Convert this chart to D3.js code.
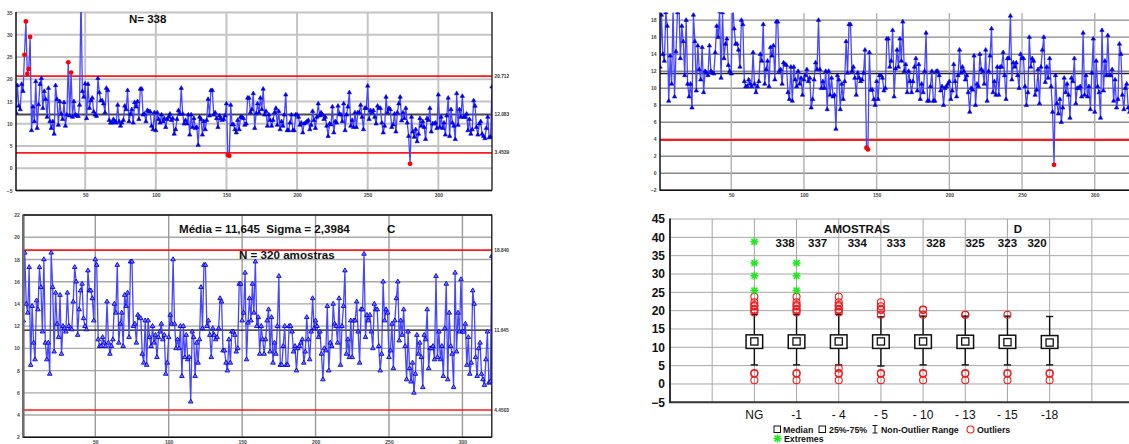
<!DOCTYPE html>
<html><head><meta charset="utf-8">
<script src="https://cdn.jsdelivr.net/npm/d3@7"></script>
<style>body{margin:0;background:#fff}svg{display:block;font-family:Arial,"Liberation Sans",sans-serif}text{white-space:pre}</style>
</head><body><svg id="c" width="1129" height="444"></svg>
<script>
// ---------------- DATA ----------------
const seriesA = [12.5,18.6,14,13.2,18.9,17.3,25.5,33,21.2,22.3,29.5,8.5,13.8,10.5,19.5,9,14.3,18.9,20.2,13.5,17.3,15.5,11.5,18,10.5,9,10.5,7.7,18.6,15.5,9.7,15,12.2,11,14.8,9.5,12,23.8,11.8,21.5,11.5,15,12,11.8,11.7,14.2,38.8,17.3,16,19,11.2,18.9,13.5,15.2,15.8,12.7,12,11.7,20.2,17,15.2,15.2,14.5,12.5,18,17.5,
10.8,10.2,10.2,11,10.5,10.2,14.2,10.5,9.5,10.2,10.8,14,13.2,17.5,10.5,12.2,13.2,10.2,14.8,13.8,15,11,17.8,17.8,12,12.2,10.5,13,12.8,12.7,9.5,8.7,12.5,8.5,12.5,11,10.2,12,10.5,11.2,9.2,11,11.5,12.2,10.8,11.2,7.7,8.7,11,
13,12.2,18,12.2,10,10.8,10,12,7.5,12,9.2,11.2,9,9.2,5.2,11.5,11,7.5,10.5,8.7,10.8,15.5,11.8,17.5,17.5,12,12.5,11.2,9.2,11.8,11.2,10.8,11,11.8,14.5,
3,2.8,
14.2,9.8,9.8,8.7,8,10.8,8.7,11.5,11.5,11.2,9.7,10,15.8,15.8,12.5,
13.2,16.8,9,12.3,14.5,12.5,15.8,13.2,17.8,12,12.8,9.5,12,10.8,9.5,10.8,12.5,13.5,9.7,12.8,8.7,10.5,9.5,12,16.5,8.5,8.5,10.2,12,8.5,8.5,12,12,11.5,9.7,10.2,8,10,10.2,10.5,10.8,8.7,9.7,12.8,10.8,9,11.5,14.5,11.8,12.5,
12,11,11.5,9.5,7.2,10,9.8,13.8,8,10.5,10.2,14,12.2,12,10.5,14.5,8.5,12,13.8,17,9.5,10.8,9.2,12.5,9.2,12.5,12.5,14.2,11.5,8.7,13.5,13.5,18.5,11,13,12.5,13,11.5,10,14,13.5,13.5,10.2,8,9.5,16,12.5,13.5,13.2,9.2,
9.8,12.2,8.2,12.5,14.5,16,10.7,12.5,11.2,13.5,10.2,7.2,
1,
11.5,8.2,7,8.7,6,7.7,11.2,9.5,
10.5,9.2,6.5,11.2,10.8,13.5,8.2,10,10,10.2,9,16.5,9.2,11.5,9,10.2,7.5,11.8,15.8,7.2,13.2,10.2,9.5,6.5,16.8,9.7,13.2,11.5,16.2,11.5,
11.5,12.2,8.5,11,7.7,8.7,15.2,14,9.2,7.5,10,10.5,7.7,7.2,6.7,9,11.5,6.9,7,18.3];

const seriesB = [12.5,18.6,14,13.2,18.9,17.3,8.5,13.8,10.5,19.5,9,14.3,18.9,20.2,13.5,17.3,15.5,11.5,18,10.5,9,10.5,7.7,18.6,15.5,9.7,15,12.2,11,14.8,9.5,12,11.8,11.5,15,12,11.8,11.7,14.2,17.3,16,19,11.2,18.9,13.5,15.2,15.8,12.7,12,11.7,20.2,17,15.2,15.2,14.5,12.5,18,17.5,
10.8,10.2,10.2,11,10.5,10.2,14.2,10.5,9.5,10.2,10.8,14,13.2,17.5,10.5,12.2,13.2,10.2,14.8,13.8,15,11,17.8,17.8,12,12.2,10.5,13,12.8,12.7,9.5,8.7,12.5,8.5,12.5,11,10.2,12,10.5,11.2,9.2,11,11.5,12.2,10.8,11.2,7.7,8.7,11,
13,12.2,18,12.2,10,10.8,10,12,7.5,12,9.2,11.2,9,9.2,5.2,11.5,11,7.5,10.5,8.7,10.8,15.5,11.8,17.5,17.5,12,12.5,11.2,9.2,11.8,11.2,10.8,11,11.8,14.5,
3,2.8,
14.2,9.8,9.8,8.7,8,10.8,8.7,11.5,11.5,11.2,9.7,10,15.8,15.8,12.5,
13.2,16.8,9,12.3,14.5,12.5,15.8,13.2,17.8,12,12.8,9.5,12,10.8,9.5,10.8,12.5,13.5,9.7,12.8,8.7,10.5,9.5,12,16.5,8.5,8.5,10.2,12,8.5,8.5,12,12,11.5,9.7,10.2,8,10,10.2,10.5,10.8,8.7,9.7,12.8,10.8,9,11.5,14.5,11.8,12.5,
12,11,11.5,9.5,7.2,10,9.8,13.8,8,10.5,10.2,14,12.2,12,10.5,14.5,8.5,12,13.8,17,9.5,10.8,9.2,12.5,9.2,12.5,12.5,14.2,11.5,8.7,13.5,13.5,18.5,11,13,12.5,13,11.5,10,14,13.5,13.5,10.2,8,9.5,16,12.5,13.5,13.2,9.2,
9.8,12.2,8.2,12.5,14.5,16,10.7,12.5,11.2,13.5,10.2,7.2,
1,
11.5,8.2,7,8.7,6,7.7,11.2,9.5,
10.5,9.2,6.5,11.2,10.8,13.5,8.2,10,10,10.2,9,16.5,9.2,11.5,9,10.2,7.5,11.8,15.8,7.2,13.2,10.2,9.5,6.5,16.8,9.7,13.2,11.5,16.2,11.5,
11.5,12.2,8.5,11,7.7,8.7,15.2,14,9.2,7.5,10,10.5,7.7,7.2,6.7,9,11.5,6.9,7,18.3];

const seriesC = [12.5,18.6,14,13.2,17.3,8.5,13.8,10.5,9,14.3,13.5,17.3,15.5,11.5,18,10.5,9,10.5,7.7,18.6,15.5,9.7,15,12.2,11,14.8,9.5,12,11.8,11.5,15,12,11.8,11.7,14.2,17.3,16,11.2,13.5,15.2,15.8,12.7,12,11.7,17,15.2,15.2,14.5,12.5,18,17.5,
10.8,10.2,10.2,11,10.5,10.2,14.2,10.5,9.5,10.2,10.8,14,13.2,17.5,10.5,12.2,13.2,10.2,14.8,13.8,15,11,17.8,17.8,12,12.2,10.5,13,12.8,12.7,9.5,8.7,12.5,8.5,12.5,11,10.2,12,10.5,11.2,9.2,11,11.5,12.2,10.8,11.2,7.7,8.7,11,
13,12.2,18,12.2,10,10.8,10,12,7.5,12,9.2,11.2,9,9.2,5.2,11.5,11,7.5,10.5,8.7,10.8,15.5,11.8,17.5,17.5,12,12.5,11.2,9.2,11.8,11.2,10.8,11,11.8,14.5,
14.2,9.8,9.8,8.7,8,10.8,8.7,11.5,11.5,11.2,9.7,10,15.8,15.8,12.5,
13.2,16.8,9,12.3,14.5,12.5,15.8,13.2,17.8,12,12.8,9.5,12,10.8,9.5,10.8,12.5,13.5,9.7,12.8,8.7,10.5,9.5,12,16.5,8.5,8.5,10.2,12,8.5,8.5,12,12,11.5,9.7,10.2,8,10,10.2,10.5,10.8,8.7,9.7,12.8,10.8,9,11.5,14.5,11.8,12.5,
12,11,11.5,9.5,7.2,10,9.8,13.8,8,10.5,10.2,14,12.2,12,10.5,14.5,8.5,12,13.8,17,9.5,10.8,9.2,12.5,9.2,12.5,12.5,14.2,11.5,8.7,13.5,13.5,18.5,11,13,12.5,13,11.5,10,14,13.5,13.5,10.2,8,9.5,16,12.5,13.5,13.2,9.2,
9.8,12.2,8.2,12.5,14.5,16,10.7,12.5,11.2,13.5,10.2,7.2,
11.5,8.2,7,8.7,6,7.7,11.2,9.5,
10.5,9.2,6.5,11.2,10.8,13.5,8.2,10,10,10.2,9,16.5,9.2,11.5,9,10.2,7.5,11.8,15.8,7.2,13.2,10.2,9.5,6.5,16.8,9.7,13.2,11.5,16.2,11.5,
11.5,12.2,8.5,11,7.7,8.7,15.2,14,9.2,7.5,10,10.5,7.7,7.2,6.7,9,11.5,6.9,7,18.3];

// control limits: [upper, centre, lower]
const limitsA = [20.712, 12.083, 3.4539];
const limitsB = [19.56, 11.73, 3.9];
const limitsC = [18.840, 11.645, 4.4503];
const limitLabelsA = ["20.712", "12.083", "3.4539"];
const limitLabelsC = ["18.840", "11.645", "4.4503"];

const xTicks = [50, 100, 150, 200, 250, 300];
const yTicksA = [-5, 0, 5, 10, 15, 20, 25, 30, 35];
const yTicksB = [-2, 0, 2, 4, 6, 8, 10, 12, 14, 16, 18];
const yTicksC = [2, 4, 6, 8, 10, 12, 14, 16, 18, 20, 22];

const titleA = "N= 338";
const titleC1 = "Média = 11,645  Sigma = 2,3984";
const titleC2 = "C";
const titleC3 = "N = 320 amostras";

// box plot
const boxCategories = ["NG", "-1", "- 4", "- 5", "- 10", "- 13", "- 15", "-18"];
const boxCounts = ["338", "337", "334", "333", "328", "325", "323", "320"];
const boxMedian = [11.6, 11.6, 11.6, 11.6, 11.6, 11.6, 11.4, 11.3];
const boxQ1 = [9.7, 9.7, 9.7, 9.7, 9.7, 9.7, 9.7, 9.7];
const boxQ3 = [13.4, 13.4, 13.4, 13.4, 13.4, 13.3, 13.3, 13.2];
const whiskerLow = [5.2, 5.2, 5.2, 4.9, 5.2, 5.2, 5.2, 5.2];
const whiskerHigh = [19, 19, 19, 18.3, 18.5, 18.5, 18.5, 18.4];
const outliersHigh = [[23.8,22.3,21.5,21.2,20.3,20.2,19.5],[23.8,22.3,21.5,21.2,20.3,20.2,19.5],[23.8,22.3,21.5,21.2,20.3,20.2,19.5],[22.3,21.2,20.3,20.2,18.9],[20.3,20.2,18.9],[18.9,18.9],[18.9],[]];
const outliersLow = [[3,2.8,1],[3,2.8,1],[4.2,3,2.8,1],[3,2.8,1],[3,2.8,1],[3,2.8,1],[3,2.8,1],[3,2.8,1]];
const extremes = [[38.8,33,29.5,25.5],[33,29.5,25.5],[],[],[],[],[],[]];
const yTicksD = [-5, 0, 5, 10, 15, 20, 25, 30, 35, 40, 45];
const legendItems = ["Median", "25%-75%", "Non-Outlier Range", "Outliers", "Extremes"];
const titleD1 = "AMOSTRAS", titleD2 = "D";

// ---------------- LAYOUT ----------------
const countSlots = [0.73, 1.5, 2.44, 3.36, 4.3, 5.23, 6.0, 6.7];

const svg = d3.select("#c");
const defs = svg.append("defs");

function control(o) {
  const x = d3.scaleLinear().domain([1, o.data.length]).range(o.xr);
  const y = d3.scaleLinear().domain(o.yd).range(o.yr);
  const g = svg.append("g");
  const clipId = "clip" + o.id;
  defs.append("clipPath").attr("id", clipId).append("rect")
    .attr("x", o.xr[0]).attr("y", o.yr[1] - 0.5).attr("width", o.xr[1] - o.xr[0]).attr("height", o.yr[0] - o.yr[1] + 0.5);
  const xEnd = o.xr[1];
  g.append("g").selectAll("line").data(o.yTicks).join("line")
    .attr("x1", o.xr[0]).attr("x2", xEnd).attr("y1", d => y(d)).attr("y2", d => y(d))
    .attr("stroke", o.gridColor).attr("stroke-width", o.gridW);
  g.append("g").selectAll("line").data(xTicks).join("line")
    .attr("x1", d => x(d)).attr("x2", d => x(d)).attr("y1", o.yr[1]).attr("y2", o.yr[0])
    .attr("stroke", o.vgridColor).attr("stroke-width", o.gridW);
  g.append("line").attr("x1", o.xr[0]).attr("x2", xEnd).attr("y1", y(o.limits[1])).attr("y2", y(o.limits[1]))
    .attr("stroke", o.centerColor).attr("stroke-width", o.centerW);
  [o.limits[0], o.limits[2]].forEach(v => {
    if (v <= o.yd[1] && v >= o.yd[0])
      g.append("line").attr("x1", o.xr[0]).attr("x2", xEnd).attr("y1", y(v)).attr("y2", y(v))
        .attr("stroke", "#ff1a1a").attr("stroke-width", o.redW);
  });
  const pts = o.data.map((v, i) => [i + 1, v]);
  const cg = g.append("g").attr("clip-path", `url(#${clipId})`);
  cg.append("path").datum(pts)
    .attr("d", d3.line().x(d => x(d[0])).y(d => y(d[1])))
    .attr("fill", "none").attr("stroke", "#4646ff").attr("stroke-width", 1.3).attr("stroke-linejoin", "round");
  const isOut = d => d[1] > o.limits[0] || d[1] < o.limits[2];
  cg.selectAll("path.m").data(pts.filter(d => !isOut(d))).join("path").attr("class", "m")
    .attr("d", d3.symbol(d3.symbolTriangle, o.markSize))
    .attr("transform", d => `translate(${x(d[0])},${y(d[1])})`)
    .attr("fill", o.markFill).attr("stroke", "#0000e0").attr("stroke-width", o.markStroke);
  cg.selectAll("circle.o").data(pts.filter(isOut)).join("circle").attr("class", "o")
    .attr("cx", d => x(d[0])).attr("cy", d => y(d[1])).attr("r", 2.4).attr("fill", "#ff0000");
  g.append("line").attr("x1", o.xr[0]).attr("x2", o.xr[0]).attr("y1", o.yr[1] - 0.5).attr("y2", o.yr[0] + 0.5)
    .attr("stroke", o.leftColor).attr("stroke-width", o.leftW);
  g.append("line").attr("x1", o.xr[0]).attr("x2", xEnd).attr("y1", o.yr[0]).attr("y2", o.yr[0])
    .attr("stroke", "#111").attr("stroke-width", 1.5);
  if (o.rightBorder) g.append("line").attr("x1", xEnd).attr("x2", xEnd).attr("y1", o.yr[1] - 0.5).attr("y2", o.yr[0])
    .attr("stroke", "#111").attr("stroke-width", 1.3);
  if (o.topBorder) g.append("line").attr("x1", o.xr[0]).attr("x2", xEnd).attr("y1", o.yr[1]).attr("y2", o.yr[1])
    .attr("stroke", "#111").attr("stroke-width", 1.3);
  const yAx = g.append("g").attr("transform", `translate(${o.xr[0]},0)`)
    .call(d3.axisLeft(y).tickValues(o.yTicks).tickSize(0).tickPadding(3.5));
  yAx.select(".domain").remove();
  yAx.selectAll("text").attr("font-size", 5).attr("font-weight", "bold").attr("fill", "#444").attr("font-family", "Arial");
  const xAx = g.append("g").attr("transform", `translate(0,${o.yr[0]})`)
    .call(d3.axisBottom(x).tickValues(xTicks).tickSize(0).tickPadding(3));
  xAx.select(".domain").remove();
  xAx.selectAll("text").attr("font-size", 5).attr("font-weight", "bold").attr("fill", "#444").attr("font-family", "Arial");
  if (o.limitLabels) {
    g.selectAll("text.ll").data(o.limitLabels).join("text").attr("class", "ll")
      .attr("x", xEnd + 2.5).attr("y", (d, i) => y(o.limits[i]) + 1.6)
      .attr("font-size", 4.8).attr("font-weight", "bold").attr("fill", "#333").text(d => d);
  }
  return { x, y, g };
}

// Panel A
const pA = control({
  id: "A", data: seriesA, xr: [16, 492], yd: [-5, 35], yr: [190.5, 12.5], yTicks: yTicksA,
  gridColor: "#c4c4c4", vgridColor: "#c4c4c4", gridW: 2, centerColor: "#4a4a4a", centerW: 2, redW: 1.6,
  limits: limitsA, limitLabels: limitLabelsA, markSize: 8, markFill: "#0000ee", markStroke: 0.6,
  leftColor: "#111", leftW: 1.5, rightBorder: true, topBorder: false
});
pA.g.append("text").attr("x", 129).attr("y", 22.5).attr("font-size", 11.5).attr("font-weight", "bold").attr("fill", "#111").text(titleA);

// Panel B
const pB = control({
  id: "B", data: seriesB, xr: [660, 660 + 329 * 1.454], yd: [-2, 18.84], yr: [190.3, 13], yTicks: yTicksB,
  gridColor: "#8a8a8a", vgridColor: "#b0b0b0", gridW: 1.4, centerColor: "#222", centerW: 1.4, redW: 2,
  limits: limitsB, limitLabels: null, markSize: 8, markFill: "#0000ee", markStroke: 0.6,
  leftColor: "#111", leftW: 1.5, rightBorder: false, topBorder: false
});

// Panel C
const pC = control({
  id: "C", data: seriesC, xr: [23.3, 491.8], yd: [2, 22], yr: [437.3, 215], yTicks: yTicksC,
  gridColor: "#a8a8a8", vgridColor: "#9a9a9a", gridW: 1.4, centerColor: "#111", centerW: 1.4, redW: 1.6,
  limits: limitsC, limitLabels: limitLabelsC, markSize: 9, markFill: "#7a7aff", markStroke: 0.9,
  leftColor: "#6e6e6e", leftW: 2.6, rightBorder: true, topBorder: true
});
pC.g.append("text").attr("x", 179).attr("y", 232.5).attr("font-size", 11.6).attr("font-weight", "bold").attr("fill", "#111").text(titleC1);
pC.g.append("text").attr("x", 387).attr("y", 232.5).attr("font-size", 11.6).attr("font-weight", "bold").attr("fill", "#111").text(titleC2);
pC.g.append("text").attr("x", 239).attr("y", 259).attr("font-size", 11.6).attr("font-weight", "bold").attr("fill", "#111").text(titleC3);

// Panel D: box plot
(function () {
  const x = d3.scaleLinear().domain([-2, 9]).range([670, 1134]);
  const y = d3.scaleLinear().domain([-5, 45]).range([402.3, 219]);
  const g = svg.append("g");
  g.selectAll("line.hg").data(yTicksD.filter(d => d > -5)).join("line").attr("class", "hg")
    .attr("x1", 670).attr("x2", 1134).attr("y1", d => y(d)).attr("y2", d => y(d))
    .attr("stroke", "#a6a6a6").attr("stroke-width", 1);
  g.selectAll("line.vg").data(d3.range(-1, 9)).join("line").attr("class", "vg")
    .attr("x1", d => x(d)).attr("x2", d => x(d)).attr("y1", 219).attr("y2", 402.3)
    .attr("stroke", "#a6a6a6").attr("stroke-width", 1);
  g.append("line").attr("x1", 670).attr("x2", 670).attr("y1", 218.5).attr("y2", 403).attr("stroke", "#333").attr("stroke-width", 2);
  g.append("line").attr("x1", 669).attr("x2", 1134).attr("y1", 402.3).attr("y2", 402.3).attr("stroke", "#333").attr("stroke-width", 2);
  const yAx = g.append("g").attr("transform", "translate(670,0)")
    .call(d3.axisLeft(y).tickValues(yTicksD).tickSize(0).tickPadding(5));
  yAx.select(".domain").remove();
  yAx.selectAll("text").attr("font-size", 12).attr("font-weight", "bold").attr("fill", "#111").attr("font-family", "Arial");
  g.selectAll("text.cat").data(boxCategories).join("text").attr("class", "cat")
    .attr("x", (d, i) => x(i)).attr("y", 418.5).attr("text-anchor", "middle")
    .attr("font-size", 12).attr("fill", "#111").text(d => d);
  function drawStar(gg, cx, cy) {
    const s = gg.append("g").attr("stroke", "#22e622").attr("stroke-width", 1.6);
    [[0, 4], [4, 0], [2.9, 2.9], [2.9, -2.9]].forEach(([dx, dy]) =>
      s.append("line").attr("x1", cx - dx).attr("x2", cx + dx).attr("y1", cy - dy).attr("y2", cy + dy));
  }
  boxCategories.forEach((c, i) => {
    const cx = x(i);
    const w = g.append("g").attr("stroke", "#111").attr("stroke-width", 1.4);
    w.append("line").attr("x1", cx).attr("x2", cx).attr("y1", y(boxQ3[i])).attr("y2", y(whiskerHigh[i]));
    w.append("line").attr("x1", cx).attr("x2", cx).attr("y1", y(boxQ1[i])).attr("y2", y(whiskerLow[i]));
    w.append("line").attr("x1", cx - 3.6).attr("x2", cx + 3.6).attr("y1", y(whiskerHigh[i])).attr("y2", y(whiskerHigh[i]));
    w.append("line").attr("x1", cx - 3.6).attr("x2", cx + 3.6).attr("y1", y(whiskerLow[i])).attr("y2", y(whiskerLow[i]));
    g.append("rect").attr("x", cx - 8.3).attr("width", 16.6).attr("y", y(boxQ3[i])).attr("height", y(boxQ1[i]) - y(boxQ3[i]))
      .attr("fill", "#fff").attr("stroke", "#111").attr("stroke-width", 1.5);
    g.append("rect").attr("x", cx - 3.6).attr("width", 7.2).attr("y", y(boxMedian[i]) - 3.6).attr("height", 7.2)
      .attr("fill", "#fff").attr("stroke", "#111").attr("stroke-width", 1.3);
    outliersHigh[i].concat(outliersLow[i]).forEach(v => {
      g.append("circle").attr("cx", cx).attr("cy", y(v)).attr("r", 3.5)
        .attr("fill", "none").attr("stroke", "#ee1c1c").attr("stroke-width", 1.1);
    });
    extremes[i].forEach(v => drawStar(g, cx, y(v)));
  });
  g.append("text").attr("x", 857).attr("y", 233).attr("text-anchor", "middle").attr("font-size", 11.5).attr("font-weight", "bold").attr("fill", "#111").text(titleD1);
  g.append("text").attr("x", 1018).attr("y", 233).attr("text-anchor", "middle").attr("font-size", 11.5).attr("font-weight", "bold").attr("fill", "#111").text(titleD2);
  g.selectAll("text.cnt").data(boxCounts).join("text").attr("class", "cnt")
    .attr("x", (d, i) => x(countSlots[i])).attr("y", 247).attr("text-anchor", "middle")
    .attr("font-size", 11.5).attr("font-weight", "bold").attr("fill", "#111").text(d => d);
  // legend
  const L = svg.append("g").attr("font-size", 8.8).attr("font-weight", "bold").attr("fill", "#111");
  L.append("rect").attr("x", 774).attr("y", 426).attr("width", 6.5).attr("height", 6.5).attr("fill", "#fff").attr("stroke", "#111").attr("stroke-width", 1);
  L.append("text").attr("x", 783).attr("y", 433).text(legendItems[0]);
  L.append("rect").attr("x", 819).attr("y", 426).attr("width", 6.5).attr("height", 6.5).attr("fill", "#fff").attr("stroke", "#111").attr("stroke-width", 1);
  L.append("text").attr("x", 829).attr("y", 433).text(legendItems[1]);
  const wi = L.append("g").attr("stroke", "#111").attr("stroke-width", 1);
  wi.append("line").attr("x1", 875).attr("x2", 875).attr("y1", 425.5).attr("y2", 433);
  wi.append("line").attr("x1", 872.5).attr("x2", 877.5).attr("y1", 425.5).attr("y2", 425.5);
  wi.append("line").attr("x1", 872.5).attr("x2", 877.5).attr("y1", 433).attr("y2", 433);
  L.append("text").attr("x", 881).attr("y", 433).text(legendItems[2]);
  L.append("circle").attr("cx", 970.5).attr("cy", 429.5).attr("r", 3.5).attr("fill", "none").attr("stroke", "#ee1c1c").attr("stroke-width", 1.1);
  L.append("text").attr("x", 977).attr("y", 433).text(legendItems[3]);
  drawStar(L, 777.5, 438.5);
  L.append("text").attr("x", 784).attr("y", 442).text(legendItems[4]);
})();
</script></body></html>
